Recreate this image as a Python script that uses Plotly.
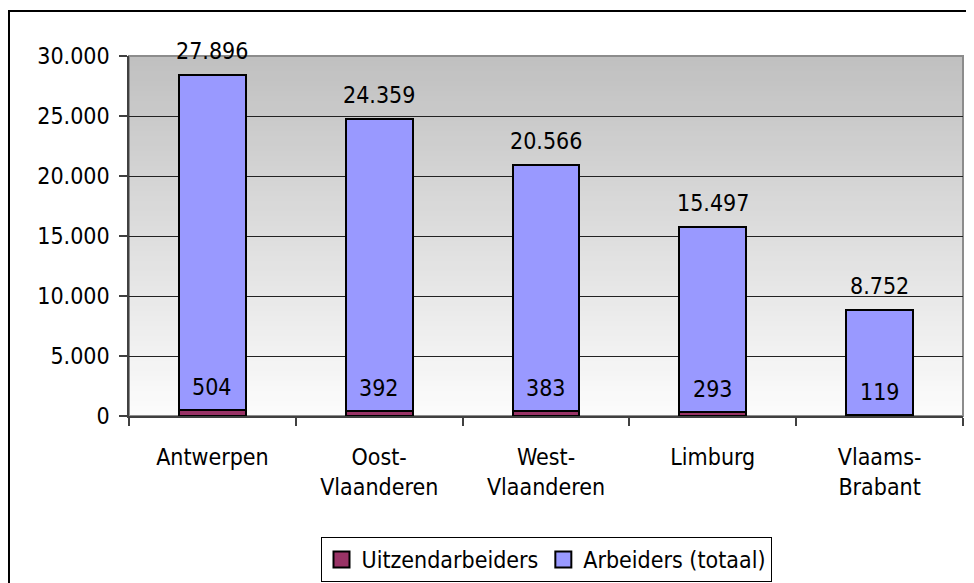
import plotly.graph_objects as go

categories = ["Antwerpen", "Oost-<br>Vlaanderen", "West-<br>Vlaanderen", "Limburg", "Vlaams-<br>Brabant"]
uitzendarbeiders = [504, 392, 383, 293, 119]
arbeiders_totaal = [27896, 24359, 20566, 15497, 8752]
y_ticks = [0, 5000, 10000, 15000, 20000, 25000, 30000]
series_names = ["Uitzendarbeiders", "Arbeiders (totaal)"]
series_colors = ["#993366", "#9999FF"]

FONT = "Liberation Sans Narrow, DejaVu Sans Condensed, Arial Narrow, sans-serif"
FS = 23

def fmt(v):
    return f"{v:,}".replace(",", ".")

fig = go.Figure()
for name, vals, col in zip(series_names, [uitzendarbeiders, arbeiders_totaal], series_colors):
    fig.add_trace(go.Bar(
        name=name, x=categories, y=vals, showlegend=False,
        marker=dict(color=col, line=dict(color="black", width=2)),
        width=0.4,
    ))
# legend entries (square swatches)
for name, col in zip(series_names, series_colors):
    fig.add_trace(go.Scatter(
        name=name, x=[None], y=[None], mode="markers",
        marker=dict(symbol="square", size=16, color=col, line=dict(color="black", width=2)),
    ))

annotations = []
for c, u, a in zip(categories, uitzendarbeiders, arbeiders_totaal):
    annotations.append(dict(x=c, y=u + a, text=fmt(a), showarrow=False,
                            yshift=24, yanchor="middle",
                            font=dict(family=FONT, size=FS, color="black")))
    annotations.append(dict(x=c, y=u, text=fmt(u), showarrow=False,
                            yshift=23, yanchor="middle",
                            font=dict(family=FONT, size=FS, color="black")))

shapes = []
N = 72
for i in range(N):
    t = i / (N - 1)
    g = round(192 + (252 - 192) * t)
    shapes.append(dict(type="rect", xref="x domain", yref="y domain",
                       x0=0, x1=1, y0=1 - (i + 1) / N, y1=1 - i / N,
                       fillcolor=f"rgb({g},{g},{g})", line=dict(width=0),
                       layer="below"))
# plot area border
shapes.append(dict(type="rect", xref="x domain", yref="y domain", x0=0, x1=1, y0=0, y1=1,
                   line=dict(color="#8c8c8c", width=2), layer="below"))
# outer chart frame (left and top edges)
shapes.append(dict(type="path", xref="paper", yref="paper",
                   path="M -0.1439,-0.6 L -0.1439,1.125 L 1.05,1.125",
                   line=dict(color="black", width=2)))

fig.update_layout(
    barmode="stack",
    width=974, height=583, autosize=False,
    margin=dict(l=121, r=19, t=48, b=175, autoexpand=False),
    paper_bgcolor="white", plot_bgcolor="white",
    separators=",.",
    font=dict(family=FONT, size=FS, color="black"),
    showlegend=True,
    legend=dict(orientation="h", x=0.5, xanchor="center", y=-0.336, yanchor="top",
                bordercolor="black", borderwidth=1, bgcolor="white",
                font=dict(family=FONT, size=FS, color="black"),
                traceorder="normal", itemwidth=30, tracegroupgap=0),
    annotations=annotations,
    shapes=shapes,
)
fig.update_xaxes(
    type="category", tickson="boundaries", ticks="outside", ticklen=8,
    tickcolor="#404040", tickwidth=1.5, showline=True, linecolor="#404040", linewidth=1.5,
    showgrid=False, ticklabelstandoff=20, automargin=False,
    tickfont=dict(family=FONT, size=FS, color="black"),
)
fig.update_yaxes(
    range=[0, 30000], tickvals=y_ticks, tickformat=",d",
    ticks="outside", ticklen=8, tickcolor="#404040", tickwidth=1.5,
    showline=True, linecolor="#404040", linewidth=1.5,
    showgrid=True, gridcolor="#222222", gridwidth=1.2,
    zeroline=False, ticklabelstandoff=5, automargin=False,
    tickfont=dict(family=FONT, size=FS, color="black"),
)

fig.write_html("out.html")
